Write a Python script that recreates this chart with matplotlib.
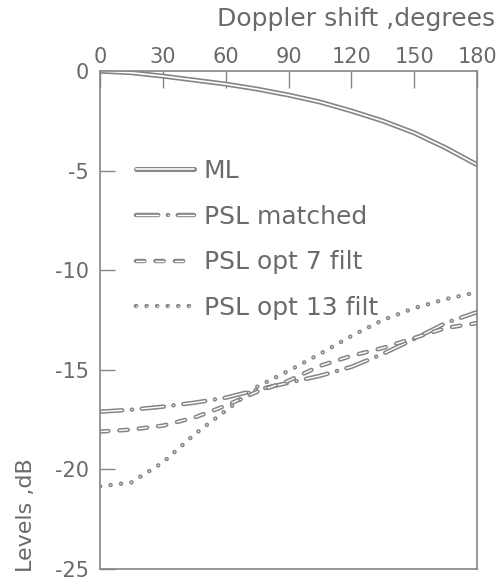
import matplotlib
matplotlib.use("Agg")
import matplotlib.pyplot as plt
import matplotlib.patheffects as pe

plt.rcParams['font.family'] = ['DejaVu Sans']
plt.rcParams['lines.scale_dashes'] = False

deg = [0, 15, 30, 45, 60, 75, 90, 105, 120, 135, 150, 165, 180]
ml = [0.0, -0.08, -0.25, -0.45, -0.65, -0.9, -1.2, -1.55, -2.0, -2.5, -3.1, -3.85, -4.7]
psl_matched = [-17.1, -17.0, -16.85, -16.65, -16.4, -16.0, -15.65, -15.3, -14.85, -14.2, -13.45, -12.65, -12.1]
psl_opt7 = [-18.1, -18.0, -17.8, -17.4, -16.8, -16.1, -15.55, -14.8, -14.3, -13.9, -13.4, -12.9, -12.65]
psl_opt13 = [-20.85, -20.65, -19.65, -18.25, -17.05, -15.85, -15.05, -14.2, -13.3, -12.5, -11.9, -11.45, -11.1]

labels = ["ML", "PSL matched", "PSL opt 7 filt", "PSL opt 13 filt"]
xticks = [0, 30, 60, 90, 120, 150, 180]
yticks = [0, -5, -10, -15, -20, -25]
ytick_labels = ["0", "-5", "-10", "-15", "-20", "-25"]

gray = "#858585"
txt = "#6a6a6a"

fig = plt.figure(figsize=(5.01, 5.83), dpi=100)
ax = fig.add_axes([0.1996, 0.024, 0.7525, 0.854])

def hollow(outer=3.4):
    return [pe.Stroke(linewidth=outer, foreground=gray), pe.Normal()]

ax.plot(deg, ml, color="white", lw=1.2, solid_capstyle="round",
        path_effects=hollow(3.6), label=labels[0])
ax.plot(deg, psl_matched, color="white", lw=1.0, dash_capstyle="round",
        linestyle=(0, (16, 7, 0.1, 7)), path_effects=hollow(3.2), label=labels[1])
ax.plot(deg, psl_opt7, color="white", lw=1.0, dash_capstyle="round",
        linestyle=(0, (6, 8)), path_effects=hollow(3.2), label=labels[2])
ax.plot(deg, psl_opt13, color="white", lw=1.0, dash_capstyle="round",
        linestyle=(0, (0.1, 7.5)), path_effects=hollow(3.2), label=labels[3])

ax.set_xlim(0, 180)
ax.set_ylim(-25, 0)
ax.xaxis.tick_top()
ax.set_xticks(xticks)
ax.set_yticks(yticks)
ax.set_yticklabels(ytick_labels)
ax.tick_params(axis="x", direction="in", length=12, width=1.0, color=gray,
               labelsize=15, labelcolor=txt, pad=3)
ax.tick_params(axis="y", direction="in", length=11, width=1.0, color=gray,
               labelsize=15, labelcolor=txt, pad=8)
for s in ax.spines.values():
    s.set_color(gray)
    s.set_linewidth(1.2)

leg = ax.legend(loc="upper left", bbox_to_anchor=(0.096, 0.824), frameon=False,
                fontsize=18, handlelength=2.3, handletextpad=0.4,
                labelspacing=0.87, borderpad=0, borderaxespad=0)
for t in leg.get_texts():
    t.set_color(txt)

fig.text(0.988, 0.967, "Doppler shift ,degrees", ha="right", va="center",
         fontsize=18, color=txt)
fig.text(0.052, 0.117, "Levels ,dB", rotation=90, ha="center", va="center",
         fontsize=16, color=txt)

fig.savefig("out.png", dpi=100)
